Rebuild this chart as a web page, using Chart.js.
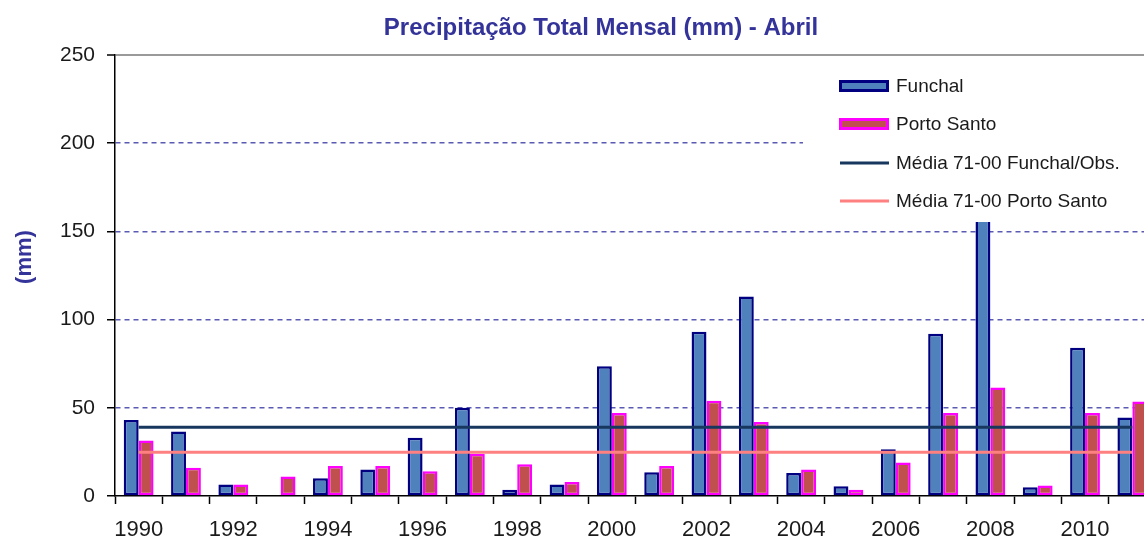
<!DOCTYPE html>
<html>
<head>
<meta charset="utf-8">
<script src="https://cdn.jsdelivr.net/npm/chart.js@4"></script>
<style>
  html, body { margin: 0; padding: 0; overflow: hidden; background: #fff; }
  #wrap { width: 1194px; height: 538px; }
</style>
</head>
<body>
<div id="wrap"><canvas id="myChart" width="1194" height="538"></canvas></div>
<script>
const years = ['1990', '1991', '1992', '1993', '1994', '1995', '1996', '1997', '1998', '1999', '2000',
  '2001', '2002', '2003', '2004', '2005', '2006', '2007', '2008', '2009', '2010', '2011'];
const funchal = [43, 36.5, 6.5, null, 10, 15, 33, 50, 3.5, 6.5, 73.5, 13.5, 93, 113, 13, 5.5, 26.5, 92, 158, 5, 84, 44.5];
const portoSanto = [31.5, 16, 6.5, 11, 17, 17, 14, 24, 18, 8, 47, 17, 54, 42, 15, 3.5, 19, 47, 61.5, 6, 47, 53.5];
const mediaFunchal = 39;
const mediaPortoSanto = 24.8;
const yTicks = [0, 50, 100, 150, 200, 250];

const fontFamily = "'Liberation Sans', Arial, sans-serif";

// legend drawn over the plot with a white box, like the original
const boxLegend = {
  id: 'boxLegend',
  afterDraw(chart) {
    const ctx = chart.ctx;
    const ds = chart.data.datasets;
    ctx.save();
    ctx.fillStyle = '#fff';
    ctx.fillRect(803, 64, 400, 158);
    const rows = [86, 124, 163, 201];
    ctx.font = '19px ' + fontFamily;
    ctx.textBaseline = 'middle';
    ds.forEach((d, i) => {
      const y = rows[i];
      if (d.type === 'line') {
        ctx.strokeStyle = d.borderColor;
        ctx.lineWidth = 3;
        ctx.beginPath();
        ctx.moveTo(840, y);
        ctx.lineTo(889, y);
        ctx.stroke();
      } else {
        ctx.fillStyle = d.borderColor;
        ctx.fillRect(839, y - 6, 50, 12);
        ctx.fillStyle = d.backgroundColor;
        ctx.fillRect(842, y - 3, 44, 6);
      }
      ctx.fillStyle = '#1a1a1a';
      ctx.fillText(d.label, 896, y + 1);
    });
    ctx.restore();
  }
};

const ctx = document.getElementById('myChart').getContext('2d');
const myChart = new Chart(ctx, {
  type: 'bar',
  data: {
    labels: years,
    datasets: [
      {
        label: 'Funchal',
        data: funchal,
        backgroundColor: '#4f81bd',
        borderColor: '#000080',
        borderWidth: 2.5,
        borderSkipped: false,
        categoryPercentage: 0.63,
        barPercentage: 1,
        order: 2
      },
      {
        label: 'Porto Santo',
        data: portoSanto,
        backgroundColor: '#c0504d',
        borderColor: '#ff00ff',
        borderWidth: 2.5,
        borderSkipped: false,
        categoryPercentage: 0.63,
        barPercentage: 1,
        order: 2
      },
      {
        type: 'line',
        label: 'Média 71-00 Funchal/Obs.',
        data: years.map(() => mediaFunchal),
        borderColor: '#17375e',
        borderWidth: 3,
        pointRadius: 0,
        order: 1
      },
      {
        type: 'line',
        label: 'Média 71-00 Porto Santo',
        data: years.map(() => mediaPortoSanto),
        borderColor: '#ff8080',
        borderWidth: 3,
        pointRadius: 0,
        order: 1
      }
    ]
  },
  options: {
    responsive: false,
    animation: false,
    layout: { padding: { left: 8, right: 0, top: 0, bottom: 0 } },
    plugins: {
      legend: { display: false },
      tooltip: { enabled: false },
      title: {
        display: true,
        text: 'Precipitação Total Mensal (mm) - Abril',
        color: '#333399',
        font: { family: fontFamily, size: 24, weight: 'bold' },
        padding: { top: 14, bottom: 12 }
      }
    },
    scales: {
      x: {
        grid: { display: true, drawOnChartArea: false, offset: true, tickLength: 8, tickColor: '#000', tickWidth: 1.5 },
        border: { color: '#000', width: 1.5 },
        ticks: {
          autoSkip: false,
          maxRotation: 0,
          padding: 13,
          color: '#1a1a1a',
          font: { family: fontFamily, size: 22 },
          callback: (v, i) => (i % 2 === 0 ? years[i] : '')
        },
        afterFit: (s) => { s.height = 42; }
      },
      y: {
        min: 0,
        max: 250,
        afterBuildTicks: (s) => { s.ticks = yTicks.map(v => ({ value: v })); },
        grid: {
          color: (c) => (c.tick.value === 0 ? 'rgba(0,0,0,0)' : c.tick.value === 250 ? '#9a9a9a' : '#5a5ab4'),
          lineWidth: (c) => (c.tick.value === 250 ? 2 : 1.5),
          tickLength: 8,
          tickColor: '#000',
          tickWidth: 1.5
        },
        border: {
          color: '#000',
          width: 1.5,
          dash: (c) => (c.tick && c.tick.value === 250 ? [] : [5, 4])
        },
        ticks: {
          padding: 12,
          color: '#1a1a1a',
          font: { family: fontFamily, size: 21 }
        },
        title: {
          display: true,
          // leading spaces lift the rotated label a little above the axis middle
          text: '      (mm)',
          color: '#333399',
          font: { family: fontFamily, size: 22, weight: 'bold' }
        },
        afterFit: (s) => { s.width = 107; }
      },
      yRight: {
        position: 'right',
        display: true,
        grid: { display: false },
        border: { display: false },
        ticks: { display: false },
        afterFit: (s) => { s.width = 38; }
      }
    }
  },
  plugins: [boxLegend]
});
</script>
</body>
</html>
